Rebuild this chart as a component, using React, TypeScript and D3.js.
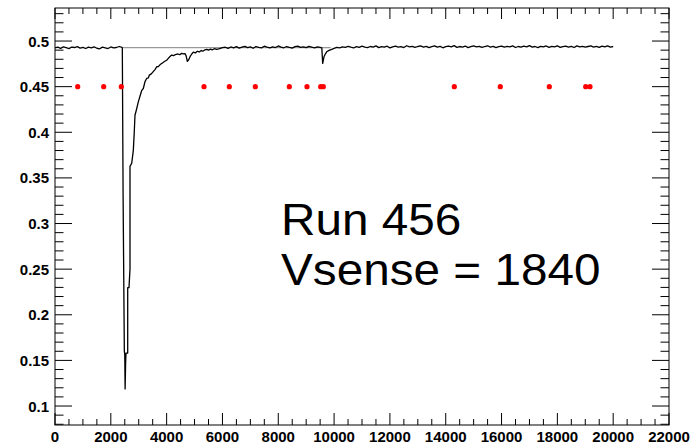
import React from "react";
import * as d3 from "d3";

// ---------- data ----------
const xDomain = [0, 22000];
const yDomain = [0.0792, 0.5362];
const xMajorTicks = [0, 2000, 4000, 6000, 8000, 10000, 12000, 14000, 16000, 18000, 20000, 22000];
const yMajorTicks = [0.1, 0.15, 0.2, 0.25, 0.3, 0.35, 0.4, 0.45, 0.5];
const yTickLabels = ["0.1", "0.15", "0.2", "0.25", "0.3", "0.35", "0.4", "0.45", "0.5"];

// baseline before the big pulse (x = 0..2400, every 100)
const seg1Start = 0;
const seg1Y = [0.4925, 0.4933, 0.4920, 0.4936, 0.4927, 0.4917, 0.4934, 0.4929, 0.4938, 0.4922, 0.4931, 0.4918, 0.4934,
  0.4925, 0.4937, 0.4921, 0.4915, 0.4933, 0.4926, 0.4918, 0.4935, 0.4924, 0.4929, 0.4940, 0.4930];

// big pulse and recovery
const pulseX = [2412, 2440, 2484, 2500, 2512, 2530, 2544, 2605, 2605, 2651, 2687, 2687, 2748, 2790, 2806, 2840, 2866, 2920,
  2985, 3050, 3110, 3164, 3225, 3284, 3343, 3379, 3450, 3520, 3590, 3643, 3701, 3780, 3850, 3920, 4000, 4060, 4120, 4181,
  4250, 4320, 4400, 4470, 4539, 4600, 4658, 4700, 4741, 4790, 4850, 4900, 4956, 5030, 5100, 5170, 5240, 5300, 5370, 5436,
  5500, 5570, 5640, 5710, 5794];
const pulseY = [0.4925, 0.33, 0.1604, 0.156, 0.1187, 0.147, 0.158, 0.158, 0.2297, 0.2297, 0.25, 0.3626, 0.366, 0.376,
  0.3802, 0.4, 0.4187, 0.425, 0.4333, 0.44, 0.446, 0.448, 0.4555, 0.459, 0.4595, 0.4626, 0.464, 0.4665, 0.469, 0.4718,
  0.472, 0.4745, 0.476, 0.4775, 0.479, 0.481, 0.483, 0.4846, 0.484, 0.4852, 0.4858, 0.485, 0.4865, 0.486, 0.4862, 0.4835,
  0.4778, 0.4795, 0.4835, 0.4858, 0.4878, 0.4870, 0.4888, 0.4880, 0.4896, 0.4889, 0.4904, 0.4909, 0.4900, 0.4912, 0.4904,
  0.4916, 0.4909];

// baseline between pulses (x = 5900..9500, every 100)
const seg3Start = 5900;
const seg3Y = [0.4916, 0.4927, 0.4932, 0.4920, 0.4935, 0.4926, 0.4939, 0.4923, 0.4933, 0.4942, 0.4927, 0.4936, 0.4921,
  0.4940, 0.4930, 0.4925, 0.4943, 0.4932, 0.4924, 0.4937, 0.4929, 0.4946, 0.4933, 0.4926, 0.4940, 0.4931, 0.4923, 0.4938,
  0.4945, 0.4930, 0.4937, 0.4927, 0.4942, 0.4932, 0.4925, 0.4936, 0.4930];

// small pulse
const pulse2X = [9560, 9592, 9638, 9690, 9735, 9820, 9914, 10000, 10093];
const pulse2Y = [0.4925, 0.4755, 0.4827, 0.486, 0.4882, 0.4898, 0.4909, 0.492, 0.4931];

// baseline after small pulse (x = 10200..20000, every 100)
const seg4Start = 10200;
const seg4Y = [
  0.4926, 0.4937, 0.4930, 0.4942, 0.4932, 0.4924, 0.4939, 0.4931, 0.4944, 0.4934,
  0.4927, 0.4940, 0.4933, 0.4947, 0.4928, 0.4938, 0.4932, 0.4943, 0.4925, 0.4937,
  0.4945, 0.4933, 0.4939, 0.4929, 0.4948, 0.4935, 0.4941, 0.4930, 0.4940, 0.4946,
  0.4934, 0.4942, 0.4928, 0.4939, 0.4947, 0.4933, 0.4941, 0.4926, 0.4938, 0.4944,
  0.4935, 0.4949, 0.4931, 0.4940, 0.4934, 0.4945, 0.4928, 0.4939, 0.4946, 0.4935,
  0.4942, 0.4930, 0.4940, 0.4948, 0.4934, 0.4941, 0.4927, 0.4939, 0.4945, 0.4933,
  0.4941, 0.4935, 0.4947, 0.4929, 0.4940, 0.4933, 0.4944, 0.4936, 0.4950, 0.4934,
  0.4940, 0.4928, 0.4942, 0.4935, 0.4946, 0.4931, 0.4941, 0.4936, 0.4948, 0.4930,
  0.4939, 0.4945, 0.4934, 0.4941, 0.4929, 0.4947, 0.4935, 0.4942, 0.4933, 0.4940,
  0.4946, 0.4934, 0.4941, 0.4930, 0.4944, 0.4936, 0.4947, 0.4933, 0.4940];
const sampleStep = 100;

// flat reference line
const refLineX = [2412, 9880];
const refLineY = [0.4927, 0.4927];

// red markers
const markerX = [813, 1745, 2376, 5339, 6246, 7177, 8396, 9030, 9520, 9613, 14307, 15955, 17711, 19015, 19169];
const markerY = 0.45;

const labelLines = ["Run 456", "Vsense = 1840"];

// ---------- layout ----------
const W = 691;
const H = 445;
const frame = { left: 55, right: 669, top: 8, bottom: 425 };

export default function App() {
  const x = d3.scaleLinear().domain(xDomain).range([frame.left, frame.right]);
  const y = d3.scaleLinear().domain(yDomain).range([frame.bottom, frame.top]);

  const pts: [number, number][] = [];
  seg1Y.forEach((v, i) => pts.push([seg1Start + i * sampleStep, v]));
  pulseX.forEach((v, i) => pts.push([v, pulseY[i]]));
  seg3Y.forEach((v, i) => pts.push([seg3Start + i * sampleStep, v]));
  pulse2X.forEach((v, i) => pts.push([v, pulse2Y[i]]));
  seg4Y.forEach((v, i) => pts.push([seg4Start + i * sampleStep, v]));

  const line = d3.line<[number, number]>().x((d) => x(d[0])).y((d) => y(d[1]));
  const refPts: [number, number][] = refLineX.map((v, i) => [v, refLineY[i]]);

  const xMinor = d3.range(0, 22001, 500).filter((v) => v % 2000 !== 0);
  const yMinor = d3.range(8, 54).map((v) => v / 100).filter((v) => Math.round(v * 100) % 5 !== 0);

  const font = "'Liberation Sans', Arial, Helvetica, sans-serif";
  const xMajLen = 12, xMinLen = 6, yMajLen = 17, yMinLen = 8.5;
  const textX = 281;

  return (
    <svg width={W} height={H} style={{ position: "absolute", left: 0, top: 0, background: "#fff" }}>
      <rect x={0} y={0} width={W} height={H} fill="#fff" />
      {/* data */}
      <path d={line(refPts)!} fill="none" stroke="#808080" strokeWidth={1} />
      <path d={line(pts)!} fill="none" stroke="#000" strokeWidth={1.3} strokeLinejoin="round" />
      {markerX.map((m, i) => (
        <circle key={i} cx={x(m)} cy={y(markerY)} r={2.6} fill="#ff0000" />
      ))}

      {/* frame */}
      <rect x={frame.left} y={frame.top} width={frame.right - frame.left} height={frame.bottom - frame.top}
        fill="none" stroke="#000" strokeWidth={1} />

      {/* x ticks bottom & top */}
      {xMajorTicks.map((t) => (
        <g key={"xm" + t}>
          <line x1={x(t)} x2={x(t)} y1={frame.bottom} y2={frame.bottom - xMajLen} stroke="#000" />
          <line x1={x(t)} x2={x(t)} y1={frame.top} y2={frame.top + xMajLen - 1} stroke="#000" />
          <text x={x(t)} y={441.5} textAnchor="middle" fontFamily={font} fontWeight="bold" fontSize={15}>
            {t}
          </text>
        </g>
      ))}
      {xMinor.map((t) => (
        <g key={"xn" + t}>
          <line x1={x(t)} x2={x(t)} y1={frame.bottom} y2={frame.bottom - xMinLen} stroke="#000" />
          <line x1={x(t)} x2={x(t)} y1={frame.top} y2={frame.top + xMinLen} stroke="#000" />
        </g>
      ))}

      {/* y ticks left & right */}
      {yMajorTicks.map((t, i) => (
        <g key={"ym" + t}>
          <line x1={frame.left} x2={frame.left + yMajLen} y1={y(t)} y2={y(t)} stroke="#000" />
          <line x1={frame.right} x2={frame.right - yMajLen} y1={y(t)} y2={y(t)} stroke="#000" />
          <text x={49} y={y(t) + 5.5} textAnchor="end" fontFamily={font} fontWeight="bold" fontSize={15}>
            {yTickLabels[i]}
          </text>
        </g>
      ))}
      {yMinor.map((t) => (
        <g key={"yn" + t}>
          <line x1={frame.left} x2={frame.left + yMinLen} y1={y(t)} y2={y(t)} stroke="#000" />
          <line x1={frame.right} x2={frame.right - yMinLen} y1={y(t)} y2={y(t)} stroke="#000" />
        </g>
      ))}

      {/* annotation */}
      <g transform={`translate(${textX},0) scale(1.06,1)`}>
        <text x={0} y={235} fontFamily={font} fontSize={45}>{labelLines[0]}</text>
        <text x={0} y={285} fontFamily={font} fontSize={45}>{labelLines[1]}</text>
      </g>
    </svg>
  );
}
